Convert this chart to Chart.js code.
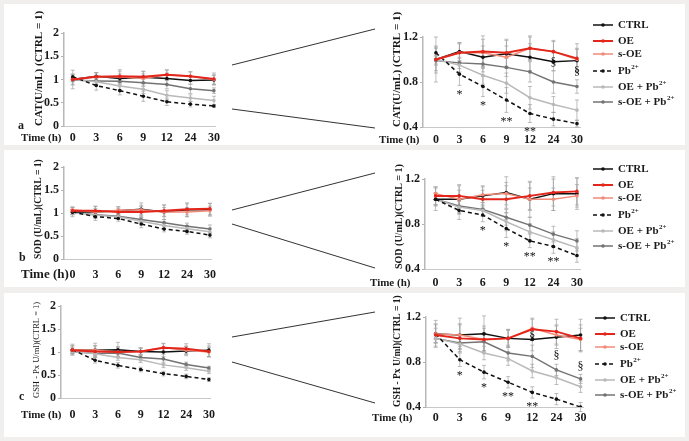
<!DOCTYPE html>
<html>
<head>
<meta charset="utf-8">
<script src="https://cdn.jsdelivr.net/npm/chart.js@4.4.1/dist/chart.umd.min.js"></script>
<style>
  body { margin: 0; width: 689px; height: 441px; background: #f0efee; position: relative; overflow: hidden; }
  .panel { position: absolute; left: 4px; width: 681px; background: #fff; }
  canvas { position: absolute; }
  svg { position: absolute; left: 0; top: 0; }
</style>
</head>
<body>
<div class="panel" style="top:4px;height:141px"></div>
<div class="panel" style="top:150px;height:137px"></div>
<div class="panel" style="top:293px;height:144px"></div>
<svg width="689" height="441">
  <g stroke="#333" stroke-width="1">
    <line x1="232" y1="65" x2="375" y2="29"/>
    <line x1="232" y1="109" x2="375" y2="128"/>
    <line x1="232" y1="210" x2="375" y2="173"/>
    <line x1="232" y1="224" x2="375" y2="268"/>
    <line x1="232" y1="337" x2="375" y2="312"/>
    <line x1="232" y1="362" x2="375" y2="403"/>
  </g>
</svg>
<canvas id="aL" width="225" height="140" style="left:0;top:5px"></canvas>
<canvas id="aR" width="345" height="140" style="left:340px;top:5px"></canvas>
<canvas id="bL" width="225" height="138" style="left:0;top:150px"></canvas>
<canvas id="bR" width="345" height="138" style="left:340px;top:150px"></canvas>
<canvas id="cL" width="225" height="143" style="left:0;top:293px"></canvas>
<canvas id="cR" width="345" height="143" style="left:340px;top:293px"></canvas>
<script>
const timeLabels = ['0', '3', '6', '9', '12', '24', '30'];
const seriesNames = ['CTRL', 'OE', 's-OE', 'Pb^2+', 'OE + Pb^2+', 's-OE + Pb^2+'];

// CAT
const catCtrl  = [1.00, 1.07, 1.02, 1.05, 1.02, 0.98, 0.99];
const catOE    = [1.00, 1.06, 1.07, 1.06, 1.10, 1.07, 1.01];
const catSOE   = [1.00, 1.06, 1.06, 1.02, 1.10, 1.07, 1.00];
const catPb    = [1.06, 0.87, 0.76, 0.64, 0.52, 0.47, 0.43];
const catOEPb  = [1.00, 0.95, 0.86, 0.79, 0.66, 0.60, 0.55];
const catSOEPb = [0.99, 0.97, 0.96, 0.93, 0.89, 0.80, 0.76];
const catCtrlErr  = [0.20, 0.08, 0.10, 0.12, 0.12, 0.08, 0.10];
const catOEErr    = [0.12, 0.09, 0.14, 0.12, 0.11, 0.10, 0.13];
const catSOEErr   = [0.10, 0.08, 0.12, 0.10, 0.10, 0.09, 0.10];
const catPbErr    = [0.05, 0.10, 0.09, 0.11, 0.08, 0.06, 0.03];
const catOEPbErr  = [0.04, 0.06, 0.08, 0.09, 0.10, 0.07, 0.09];
const catSOEPbErr = [0.04, 0.05, 0.07, 0.08, 0.09, 0.10, 0.06];
const catPbSig    = ['', '*', '*', '**', '**', '', ''];
const catSOEPbSig = ['', '', '', '', '', '§', '§'];

// SOD
const sodCtrl  = [1.02, 1.02, 1.05, 1.08, 1.02, 1.07, 1.07];
const sodOE    = [1.05, 1.05, 1.02, 1.02, 1.05, 1.08, 1.09];
const sodSOE   = [1.07, 1.02, 1.06, 1.07, 1.02, 1.02, 1.05];
const sodPb    = [1.02, 0.92, 0.88, 0.76, 0.65, 0.60, 0.52];
const sodOEPb  = [1.02, 0.95, 0.92, 0.82, 0.73, 0.66, 0.59];
const sodSOEPb = [1.02, 0.96, 0.93, 0.86, 0.79, 0.71, 0.65];
const sodCtrlErr  = [0.10, 0.12, 0.09, 0.14, 0.16, 0.15, 0.14];
const sodOEErr    = [0.08, 0.10, 0.08, 0.12, 0.12, 0.12, 0.12];
const sodSOEErr   = [0.06, 0.08, 0.07, 0.10, 0.10, 0.10, 0.10];
const sodPbErr    = [0.06, 0.08, 0.06, 0.08, 0.06, 0.06, 0.06];
const sodOEPbErr  = [0.05, 0.06, 0.05, 0.08, 0.07, 0.07, 0.08];
const sodSOEPbErr = [0.05, 0.07, 0.06, 0.07, 0.07, 0.07, 0.09];
const sodPbSig    = ['', '', '*', '*', '**', '**', ''];
const sodSOEPbSig = ['', '', '', '', '', '', ''];

// GSH-Px
const gshCtrl  = [1.05, 1.04, 1.05, 1.01, 1.00, 1.02, 1.04];
const gshOE    = [1.04, 1.01, 1.00, 1.01, 1.09, 1.07, 1.01];
const gshSOE   = [1.05, 1.04, 1.00, 1.01, 1.10, 1.04, 1.00];
const gshPb    = [1.05, 0.82, 0.71, 0.62, 0.53, 0.47, 0.40];
const gshOEPb  = [1.01, 0.96, 0.88, 0.83, 0.72, 0.66, 0.58];
const gshSOEPb = [1.01, 0.97, 0.98, 0.88, 0.85, 0.73, 0.65];
const gshCtrlErr  = [0.12, 0.15, 0.16, 0.08, 0.10, 0.10, 0.14];
const gshOEErr    = [0.10, 0.12, 0.12, 0.08, 0.10, 0.11, 0.12];
const gshSOEErr   = [0.08, 0.10, 0.10, 0.07, 0.08, 0.09, 0.10];
const gshPbErr    = [0.05, 0.06, 0.06, 0.05, 0.05, 0.05, 0.04];
const gshOEPbErr  = [0.04, 0.05, 0.06, 0.06, 0.06, 0.06, 0.05];
const gshSOEPbErr = [0.04, 0.05, 0.08, 0.07, 0.10, 0.05, 0.04];
const gshPbSig    = ['', '*', '*', '**', '**', '', ''];
const gshSOEPbSig = ['', '', '', '', '§', '§', '§'];

const serif = "'Liberation Serif', 'Times New Roman', serif";
const styles = [
  { color: '#111111', width: 1.5, dash: [], order: 2 },
  { color: '#e3261b', width: 2, dash: [], order: 0 },
  { color: '#f28a78', width: 1.5, dash: [], order: 1 },
  { color: '#111111', width: 1.5, dash: [4, 3], order: 3 },
  { color: '#b9b9b9', width: 1.5, dash: [], order: 4 },
  { color: '#737373', width: 1.5, dash: [], order: 5 }
];

function buildDatasets(values, errors, pbSig, soepbSig) {
  return values.map((vals, k) => ({
    label: seriesNames[k],
    data: vals.map((v, i) => ({ x: i, y: v })),
    errors: errors[k],
    sigBelow: k === 3 ? pbSig : null,
    sigAbove: k === 5 ? soepbSig : null,
    borderColor: styles[k].color,
    backgroundColor: styles[k].color,
    borderWidth: styles[k].width,
    borderDash: styles[k].dash,
    order: styles[k].order,
    pointRadius: 1.8,
    pointBorderWidth: 0,
    tension: 0
  }));
}

// vertical error bars with caps, drawn under the lines
const errorBars = {
  id: 'errorBars',
  beforeDatasetsDraw(chart) {
    const { ctx, scales: { x, y } } = chart;
    ctx.save();
    ctx.strokeStyle = '#a2a2a2';
    ctx.lineWidth = 0.7;
    chart.data.datasets.forEach(ds => {
      ds.errors.forEach((e, i) => {
        const px = x.getPixelForValue(i);
        const t = y.getPixelForValue(ds.data[i].y + e);
        const b = y.getPixelForValue(ds.data[i].y - e);
        ctx.beginPath();
        ctx.moveTo(px, t); ctx.lineTo(px, b);
        ctx.moveTo(px - 2, t); ctx.lineTo(px + 2, t);
        ctx.moveTo(px - 2, b); ctx.lineTo(px + 2, b);
        ctx.stroke();
      });
    });
    ctx.restore();
  }
};

const sigMarks = {
  id: 'sigMarks',
  afterDatasetsDraw(chart, args, opts) {
    if (!opts.show) return;
    const { ctx, scales: { x, y } } = chart;
    ctx.save();
    ctx.fillStyle = '#111';
    ctx.textAlign = 'center';
    chart.data.datasets.forEach(ds => {
      if (ds.sigBelow) {
        ctx.font = '12px ' + serif;
        ctx.textBaseline = 'top';
        ds.sigBelow.forEach((s, i) => {
          if (s) ctx.fillText(s, x.getPixelForValue(i), y.getPixelForValue(ds.data[i].y - ds.errors[i]) + 3);
        });
      }
      if (ds.sigAbove) {
        ctx.font = '12px ' + serif;
        ctx.textBaseline = 'bottom';
        ds.sigAbove.forEach((s, i) => {
          if (s) ctx.fillText(s, x.getPixelForValue(i), y.getPixelForValue(ds.data[i].y + ds.errors[i]) - 2);
        });
      }
    });
    ctx.restore();
  }
};

function drawRich(ctx, str, x, y, size) {
  const parts = str.split('^');
  ctx.font = 'bold ' + size + 'px ' + serif;
  ctx.fillText(parts[0], x, y);
  if (parts[1]) {
    const w = ctx.measureText(parts[0]).width;
    ctx.font = 'bold ' + Math.round(size * 0.65) + 'px ' + serif;
    ctx.fillText(parts[1], x + w + 0.5, y - size * 0.35);
  }
}

const sideLegend = {
  id: 'sideLegend',
  afterDraw(chart, args, opts) {
    if (!opts.rows) return;
    const ctx = chart.ctx;
    ctx.save();
    chart.data.datasets.forEach((ds, k) => {
      const yy = opts.rows[k];
      ctx.strokeStyle = ds.borderColor;
      ctx.lineWidth = ds.borderWidth;
      ctx.setLineDash(ds.borderDash);
      ctx.beginPath();
      ctx.moveTo(opts.x, yy); ctx.lineTo(opts.x + 20, yy);
      ctx.stroke();
      ctx.setLineDash([]);
      ctx.fillStyle = ds.borderColor;
      ctx.beginPath();
      ctx.arc(opts.x + 10, yy, 1.8, 0, Math.PI * 2);
      ctx.fill();
      ctx.fillStyle = '#1a1a1a';
      ctx.textAlign = 'left';
      ctx.textBaseline = 'middle';
      drawRich(ctx, ds.label, opts.x + 25, yy, 11);
    });
    ctx.restore();
  }
};

const extraText = {
  id: 'extraText',
  afterDraw(chart, args, opts) {
    const ctx = chart.ctx;
    ctx.save();
    ctx.fillStyle = '#1a1a1a';
    ctx.textAlign = 'left';
    ctx.textBaseline = 'middle';
    ctx.font = 'bold ' + opts.timeSize + 'px ' + serif;
    ctx.fillText('Time (h)', opts.timeX, opts.timeY);
    if (opts.letter) {
      ctx.font = 'bold 12px ' + serif;
      ctx.fillText(opts.letter, opts.letterX, opts.letterY);
    }
    ctx.restore();
  }
};

function makeChart(id, datasets, c) {
  const tickFont = { family: serif, size: 12, weight: 'bold' };
  return new Chart(document.getElementById(id), {
    type: 'line',
    data: { datasets: datasets },
    options: {
      responsive: false,
      animation: false,
      events: [],
      layout: { padding: { top: c.top, right: c.right, left: 0, bottom: 0 } },
      plugins: {
        legend: { display: false },
        tooltip: { enabled: false },
        sigMarks: { show: !!c.legend },
        sideLegend: c.legend || {},
        extraText: c.text
      },
      scales: {
        x: {
          type: 'linear',
          min: c.xmin,
          max: c.xmax,
          afterBuildTicks: s => { s.ticks = timeLabels.map((_, i) => ({ value: i })); },
          afterFit: s => { s.height = c.xh; },
          grid: { display: false, drawTicks: false },
          border: { color: '#c8c8c8', width: 1 },
          ticks: { padding: c.xpad, font: tickFont, color: '#1a1a1a', autoSkip: false, maxRotation: 0,
                   callback: v => timeLabels[v] }
        },
        y: {
          min: c.ymin,
          max: c.ymax,
          afterFit: s => { s.width = c.left; },
          grid: { drawOnChartArea: false, tickLength: 3, tickColor: '#b0b0b0' },
          border: { color: '#b8b8b8', width: 1.5 },
          ticks: { stepSize: c.step, padding: 2, font: tickFont, color: '#1a1a1a',
                   callback: v => String(+v.toFixed(1)) },
          title: { display: true, text: c.title, align: 'start', color: '#1a1a1a',
                   padding: { top: c.tpad, bottom: 0 },
                   font: { family: serif, size: c.tsize, weight: c.tweight || 'bold' } }
        }
      }
    },
    plugins: [errorBars, sigMarks, sideLegend, extraText]
  });
}

const catData = () => buildDatasets(
  [catCtrl, catOE, catSOE, catPb, catOEPb, catSOEPb],
  [catCtrlErr, catOEErr, catSOEErr, catPbErr, catOEPbErr, catSOEPbErr], catPbSig, catSOEPbSig);
const sodData = () => buildDatasets(
  [sodCtrl, sodOE, sodSOE, sodPb, sodOEPb, sodSOEPb],
  [sodCtrlErr, sodOEErr, sodSOEErr, sodPbErr, sodOEPbErr, sodSOEPbErr], sodPbSig, sodSOEPbSig);
const gshData = () => buildDatasets(
  [gshCtrl, gshOE, gshSOE, gshPb, gshOEPb, gshSOEPb],
  [gshCtrlErr, gshOEErr, gshSOEErr, gshPbErr, gshOEPbErr, gshSOEPbErr], gshPbSig, gshSOEPbSig);

const legendGaps = [0, 16, 29, 46, 62, 77];

// row a
makeChart('aL', catData(), {
  top: 28, right: 5, left: 64, xh: 19, xpad: 5, xmin: -0.37, xmax: 6.08,
  ymin: 0, ymax: 2, step: 0.5, title: 'CAT(U/mL) (CTRL = 1)', tsize: 11, tpad: 33,
  text: { timeX: 21, timeY: 133, timeSize: 11, letter: 'a', letterX: 18, letterY: 121 }
});
makeChart('aR', catData(), {
  top: 32, right: 105, left: 83, xh: 18, xpad: 6, xmin: -0.55, xmax: 6.13,
  ymin: 0.4, ymax: 1.2, step: 0.4, title: 'CAT(U/mL) (CTRL = 1)', tsize: 11, tpad: 51,
  legend: { x: 253, rows: legendGaps.map(g => 20 + g) },
  text: { timeX: 39, timeY: 135, timeSize: 11 }
});

// row b
makeChart('bL', sodData(), {
  top: 17, right: 5, left: 64, xh: 29, xpad: 9, xmin: -0.37, xmax: 6.08,
  ymin: 0, ymax: 2, step: 0.5, title: 'SOD (U/mL)(CTRL = 1)', tsize: 9.5, tpad: 33,
  text: { timeX: 21, timeY: 125, timeSize: 13, letter: 'b', letterX: 19, letterY: 108 }
});
makeChart('bR', sodData(), {
  top: 29, right: 105, left: 85, xh: 19, xpad: 7, xmin: -0.45, xmax: 6.13,
  ymin: 0.4, ymax: 1.2, step: 0.4, title: 'SOD (U/mL)(CTRL = 1)', tsize: 10, tpad: 53,
  legend: { x: 253, rows: legendGaps.map(g => 19 + g) },
  text: { timeX: 30, timeY: 133, timeSize: 11 }
});

// row c
makeChart('cL', gshData(), {
  top: 13, right: 5, left: 61, xh: 38, xpad: 10, xmin: -0.5, xmax: 6.08,
  ymin: 0, ymax: 2, step: 0.5, title: 'GSH - Px U/ml)(CTRL = 1)', tsize: 8.5, tpad: 32, tweight: 'normal',
  text: { timeX: 21, timeY: 122, timeSize: 11, letter: 'c', letterX: 19, letterY: 104 }
});
makeChart('cR', gshData(), {
  top: 24, right: 102, left: 86, xh: 29, xpad: 4, xmin: -0.4, xmax: 6.1,
  ymin: 0.4, ymax: 1.2, step: 0.4, title: 'GSH - Px U/ml)(CTRL = 1)', tsize: 9.5, tpad: 52,
  legend: { x: 255, rows: legendGaps.map(g => 25 + g) },
  text: { timeX: 32, timeY: 125, timeSize: 11 }
});
</script>
</body>
</html>
